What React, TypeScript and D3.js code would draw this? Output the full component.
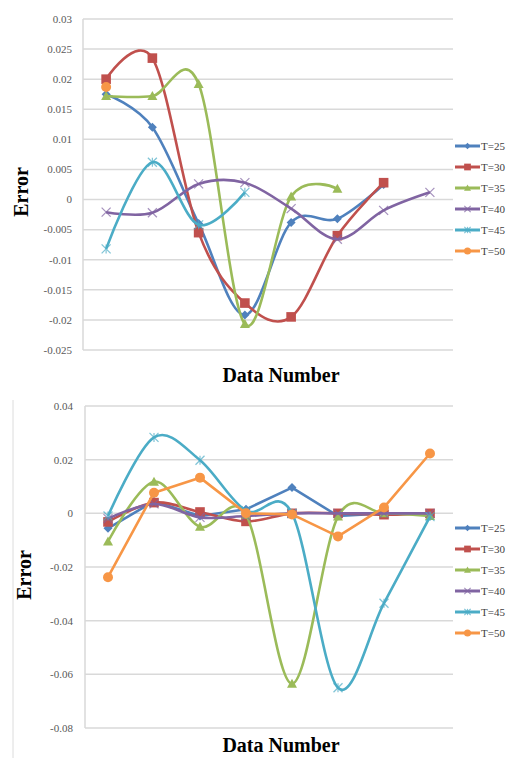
import React from 'react';
import * as d3 from 'd3';

// x positions (data number), no labels shown on the axis
const categories = ['1', '2', '3', '4', '5', '6', '7', '8'];
const seriesNames = ['T=25', 'T=30', 'T=35', 'T=40', 'T=45', 'T=50'];
const seriesColors = ['#4F81BD', '#C0504D', '#9BBB59', '#8064A2', '#4BACC6', '#F79646'];
const markerTypes = ['diamond', 'square', 'triangle', 'x', 'star', 'circle'];

// upper chart
const topTicks = [0.03, 0.025, 0.02, 0.015, 0.01, 0.005, 0, -0.005, -0.01, -0.015, -0.02, -0.025];
const topTickLabels = ['0.03', '0.025', '0.02', '0.015', '0.01', '0.005', '0', '-0.005', '-0.01', '-0.015', '-0.02', '-0.025'];
const topT25 = [0.0175, 0.012, -0.004, -0.0192, -0.0038, -0.0032, 0.0025];
const topT30 = [0.02, 0.0235, -0.0055, -0.0172, -0.0195, -0.006, 0.0028];
const topT35 = [0.0172, 0.0172, 0.0192, -0.0207, 0.0005, 0.0018];
const topT40 = [-0.0021, -0.0022, 0.0026, 0.0028, -0.0015, -0.0066, -0.0018, 0.0012];
const topT45 = [-0.0082, 0.0062, -0.0042, 0.0012];
const topT50 = [0.0187];

// lower chart
const botTicks = [0.04, 0.02, 0, -0.02, -0.04, -0.06, -0.08];
const botTickLabels = ['0.04', '0.02', '0', '-0.02', '-0.04', '-0.06', '-0.08'];
const botT25 = [-0.0056, 0.0045, -0.001, 0.0015, 0.0096, -0.001, 0, 0];
const botT30 = [-0.0032, 0.004, 0.0005, -0.003, 0, 0, -0.0005, 0];
const botT35 = [-0.0105, 0.0118, -0.005, -0.0005, -0.0635, -0.0012, 0, -0.001];
const botT40 = [-0.002, 0.0035, -0.0015, -0.001, 0, 0, 0, 0];
const botT45 = [-0.001, 0.0283, 0.0198, 0.001, 0, -0.065, -0.0335, -0.0012];
const botT50 = [-0.0238, 0.0077, 0.0133, 0, -0.0004, -0.0086, 0.0022, 0.0223];

const FONT = '"Liberation Serif", "Times New Roman", serif';

const Marker: React.FC<{type: string; x: number; y: number; color: string; s?: number}> = ({type, x, y, color, s = 1}) => {
    if (type === 'diamond') {
        const r = 4.5 * s;
        return <path d={`M${x},${y - r}L${x + r},${y}L${x},${y + r}L${x - r},${y}Z`} fill={color}/>;
    }
    if (type === 'square') {
        const r = 4.8 * s;
        return <rect x={x - r} y={y - r} width={2 * r} height={2 * r} fill={color}/>;
    }
    if (type === 'triangle') {
        const r = 5 * s;
        return <path d={`M${x},${y - r}L${x + r},${y + r * 0.8}L${x - r},${y + r * 0.8}Z`} fill={color}/>;
    }
    if (type === 'circle') {
        return <circle cx={x} cy={y} r={5 * s} fill={color}/>;
    }
    const r = 4.5 * s;
    return (
        <g stroke={color} strokeWidth={1.2} opacity={0.7}>
            <line x1={x - r} y1={y - r} x2={x + r} y2={y + r}/>
            <line x1={x - r} y1={y + r} x2={x + r} y2={y - r}/>
            {type === 'star' && <line x1={x} y1={y - r} x2={x} y2={y + r}/>}
        </g>
    );
};

interface ChartProps {
    series: number[][];
    smooth: boolean[];
    ticks: number[];
    tickLabels: string[];
    x0: number;
    x1: number;
    yTop: number;
    yBottom: number;
    labelX: number;
    legendY: number;
    errorY: number;
    errorX: number;
    titleY: number;
}

const Chart: React.FC<ChartProps> = ({series, smooth, ticks, tickLabels, x0, x1, yTop, yBottom, labelX, legendY, errorY, errorX, titleY}) => {
    const x = d3.scalePoint<string>().domain(categories).range([x0, x1]).padding(0.5);
    const y = d3.scaleLinear()
        .domain([ticks[ticks.length - 1], ticks[0]])
        .range([yBottom, yTop]);

    return (
        <g>
            {ticks.map((t, i) => (
                <g key={i}>
                    <line x1={x0} x2={x1} y1={y(t)} y2={y(t)} stroke="#d9d9d9" strokeWidth={1.5}/>
                    <text x={labelX} y={y(t)} dy="0.35em" textAnchor="end" fontSize={11}
                          fontFamily={FONT} fill="#595959">{tickLabels[i]}</text>
                </g>
            ))}
            <line x1={x0} x2={x0} y1={yTop} y2={yBottom} stroke="#d9d9d9" strokeWidth={1.5}/>
            {series.map((vals, si) => {
                const line = d3.line<number>()
                    .x((_, i) => x(categories[i])!)
                    .y(v => y(v))
                    .curve(smooth[si] ? d3.curveCardinal.tension(0) : d3.curveLinear);
                return (
                    <g key={si}>
                        <path d={line(vals)!} fill="none" stroke={seriesColors[si]} strokeWidth={2.6}
                              strokeLinejoin="round"/>
                        {vals.map((v, i) => (
                            <Marker key={i} type={markerTypes[si]} x={x(categories[i])!} y={y(v)}
                                    color={seriesColors[si]}/>
                        ))}
                    </g>
                );
            })}
            {seriesNames.map((name, i) => (
                <g key={name} transform={`translate(455, ${legendY + i * 21})`}>
                    <line x1={0} x2={25} y1={0} y2={0} stroke={seriesColors[i]} strokeWidth={3}/>
                    <Marker type={markerTypes[i]} x={12.5} y={0} color={seriesColors[i]} s={0.7}/>
                    <text x={26} y={0} dy="0.35em" fontSize={11} fontFamily={FONT} fill="#404040">{name}</text>
                </g>
            ))}
            <text transform={`translate(${errorX}, ${errorY}) rotate(-90)`} textAnchor="middle"
                  fontSize={20} fontWeight="bold" fontFamily={FONT} fill="#000">Error</text>
            <text x={281} y={titleY} textAnchor="middle" fontSize={20} fontWeight="bold"
                  fontFamily={FONT} fill="#000">Data Number</text>
        </g>
    );
};

export default function App() {
    return (
        <svg width={513} height={758} style={{position: 'absolute', left: 0, top: 0, background: '#fff'}}>
            <rect width={513} height={758} fill="#fff"/>
            <Chart
                series={[topT25, topT30, topT35, topT40, topT45, topT50]}
                smooth={[true, true, true, true, true, true]}
                ticks={topTicks}
                tickLabels={topTickLabels}
                x0={83} x1={453} yTop={19} yBottom={350}
                labelX={72} legendY={146} errorX={28} errorY={192} titleY={382}
            />
            <line x1={13} x2={13} y1={400} y2={758} stroke="#dcdcdc" strokeWidth={1}/>
            <Chart
                series={[botT25, botT30, botT35, botT40, botT45, botT50]}
                smooth={[false, true, true, true, true, false]}
                ticks={botTicks}
                tickLabels={botTickLabels}
                x0={85} x1={453} yTop={406} yBottom={728}
                labelX={73} legendY={528} errorX={31} errorY={575} titleY={752}
            />
        </svg>
    );
}
